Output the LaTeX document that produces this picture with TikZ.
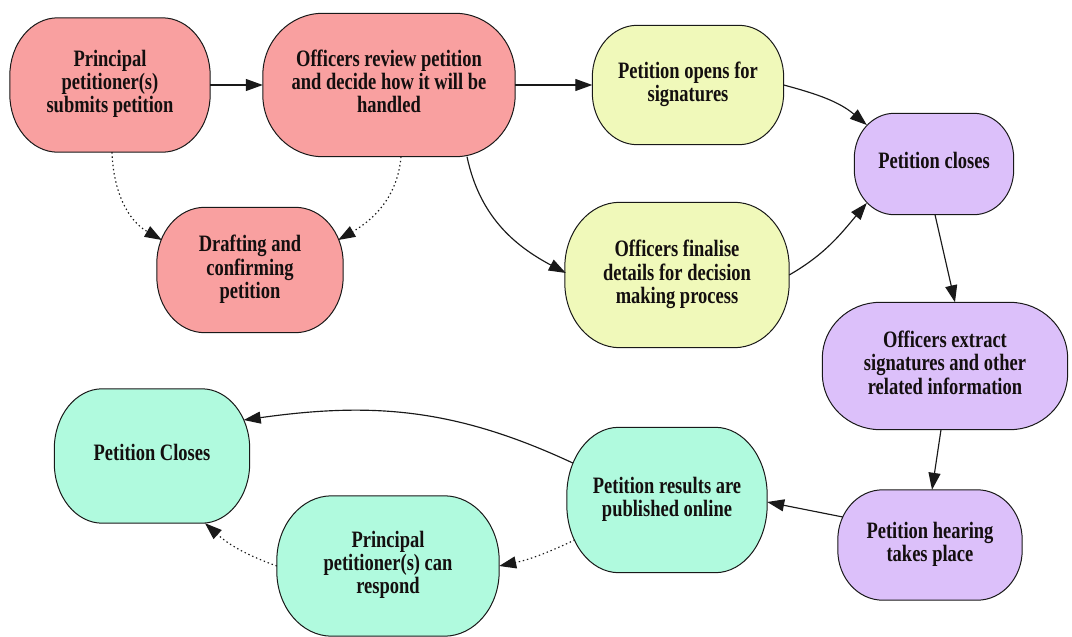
\documentclass[tikz,border=0pt]{standalone}
\usepackage{fontspec}
\setmainfont{Liberation Serif}
\usepackage{graphicx}
\usetikzlibrary{arrows.meta,calc,backgrounds}
\definecolor{cRed}{RGB}{249,160,160}
\definecolor{cYel}{RGB}{240,249,186}
\definecolor{cPur}{RGB}{220,192,250}
\definecolor{cTeal}{RGB}{176,250,222}
\definecolor{cLine}{RGB}{25,25,25}
\definecolor{cText}{RGB}{20,15,15}
\newcommand\stx[1]{\scalebox{1}[1.27]{\begin{tabular}{@{}c@{}}#1\end{tabular}}}
% rounded box with elliptical corners drawn round a named node
\newcommand\rbox[4]{%
  \path[boxline, fill=#4]
    ($(#1.north west)+(#2,0)$) -- ($(#1.north east)+(-#2,0)$)
    arc[start angle=90, end angle=0, x radius=#2pt, y radius=#3pt]
    -- ($(#1.south east)+(0,-#3)$)
    arc[start angle=0, end angle=-90, x radius=#2pt, y radius=#3pt]
    -- ($(#1.south west)+(#2,0)$)
    arc[start angle=-90, end angle=-180, x radius=#2pt, y radius=#3pt]
    -- ($(#1.north west)+(0,#3)$)
    arc[start angle=180, end angle=90, x radius=#2pt, y radius=#3pt]
    -- cycle;}
\tikzset{
  nd/.style={inner sep=0pt, text=cText, font=\bfseries\fontsize{18.5}{17.8}\selectfont},
  sz/.style 2 args={minimum width=#1pt, minimum height=#2pt},
  boxline/.style={draw=cLine, line width=1pt},
  edge/.style={draw=cLine, line width=1.15pt, -{Triangle[length=17pt,width=12pt]}},
  dotedge/.style={edge, dash pattern=on 1.4pt off 2.8pt},
}
\begin{document}
\begin{tikzpicture}[x=1pt,y=-1pt]
\useasboundingbox (0,0) rectangle (1072,637);
% nodes (text)
\node[nd, sz={200}{134}] (pp) at (110,85) {\stx{Principal\\petitioner(s)\\submits petition}};
\node[nd, sz={252}{143}] (rev) at (389,85) {\stx{Officers review petition\\and decide how it will be\\handled}};
\node[nd, sz={191}{119}] (open) at (688,85) {\stx{Petition opens for\\signatures}};
\node[nd, sz={159}{101}] (close) at (934,164) {\stx{Petition closes}};
\node[nd, sz={186}{125}] (draft) at (250,270) {\stx{Drafting and\\confirming\\petition}};
\node[nd, sz={224}{145}] (fin) at (677,275) {\stx{Officers finalise\\details for decision\\making process}};
\node[nd, sz={245}{127}] (extract) at (945,366) {\stx{Officers extract\\signatures and other\\related information}};
\node[nd, sz={184}{110}] (hear) at (930,545) {\stx{Petition hearing\\takes place}};
\node[nd, sz={200}{145}] (pub) at (667,500) {\stx{Petition results are\\published online}};
\node[nd, sz={195}{134}] (pc) at (152,456) {\stx{Petition Closes}};
\node[nd, sz={222}{140}] (resp) at (388,566) {\stx{Principal\\petitioner(s) can\\respond}};
% node outlines
\begin{scope}[on background layer]
\rbox{pp}{48}{58}{cRed}
\rbox{rev}{60}{62}{cRed}
\rbox{open}{45}{52}{cYel}
\rbox{close}{40}{45}{cPur}
\rbox{draft}{48}{56}{cRed}
\rbox{fin}{55}{65}{cYel}
\rbox{extract}{58}{56}{cPur}
\rbox{hear}{45}{50}{cPur}
\rbox{pub}{52}{68}{cTeal}
\rbox{pc}{48}{60}{cTeal}
\rbox{resp}{55}{65}{cTeal}
\end{scope}
% edges
\draw[edge] (pp.east) -- (rev.west);
\draw[edge] (rev.east) -- (open.west);
\draw[dotedge] ($(pp.south)+(2,0)$) to[out=-88,in=150] ($(draft.west)+(5,-30)$);
\draw[dotedge] ($(rev.south)+(12,0)$) to[out=-95,in=30] ($(draft.east)+(-5,-30)$);
\draw[edge] ($(rev.south)+(78,0)$) to[out=-78,in=152] ($(fin.west)+(1,-2)$);
\draw[edge] (open.east) to[out=-15,in=140] ($(close.west)+(12.5,-39)$);
\draw[edge] (fin.east) to[out=30,in=-130] ($(close.west)+(12.5,39)$);
\draw[edge] ($(close.south)+(1,0)$) -- ($(extract.north)+(10,0)$);
\draw[edge] ($(extract.south)+(-4,0)$) -- ($(hear.north)+(2,0)$);
\draw[edge] ($(hear.west)+(5,-28)$) -- ($(pub.east)+(0,2)$);
\draw[edge] ($(pub.west)+(6,-37)$) to[out=155,in=8] ($(pc.east)+(-6,-36)$);
\draw[dotedge] ($(pub.west)+(8,40)$) to[out=205,in=12] (resp.east);
\draw[dotedge] (resp.west) to[out=160,in=-42] ($(pc.south)+(53,0)$);
\end{tikzpicture}
\end{document}
